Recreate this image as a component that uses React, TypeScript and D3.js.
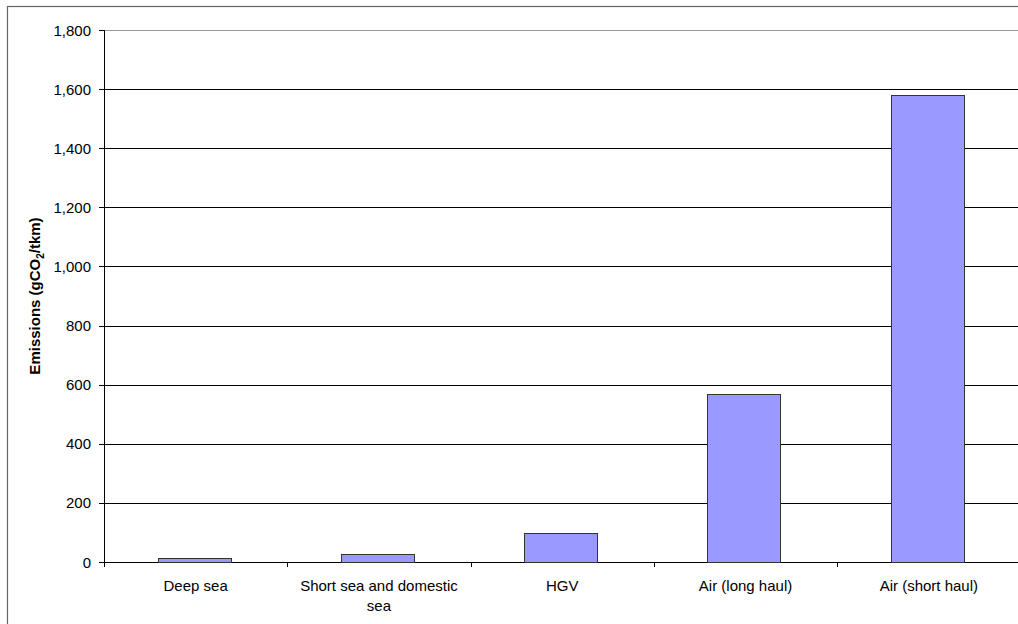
import React from "react";
import * as d3 from "d3";

const categories: string[][] = [
  ["Deep sea"],
  ["Short sea and domestic", "sea"],
  ["HGV"],
  ["Air (long haul)"],
  ["Air (short haul)"],
];
const emissions: number[] = [14, 28, 98, 570, 1580];
const yTicks: number[] = [0, 200, 400, 600, 800, 1000, 1200, 1400, 1600, 1800];

const W = 1018;
const H = 624;
const plot = { left: 104, right: 1020.5, top: 30, bottom: 562 };

export default function App() {
  const band = d3
    .scaleBand<number>()
    .domain(d3.range(categories.length))
    .range([plot.left, plot.right]);
  const y = d3.scaleLinear().domain([0, 1800]).range([plot.bottom, plot.top]);
  const fmt = d3.format(",");
  const font = "'Liberation Sans', Arial, sans-serif";
  const barOffset = 0.292;
  const barWidth = 0.4;

  return (
    <svg
      width={W}
      height={H}
      style={{ position: "absolute", left: 0, top: 0, background: "#fff" }}
      fontFamily={font}
    >
      {/* chart frame */}
      <rect x={7.5} y={6.5} width={W + 10} height={H + 10} fill="none" stroke="#666" strokeWidth={1.2} />

      {/* gridlines */}
      {yTicks.map((t) => (
        <line
          key={t}
          x1={plot.left}
          x2={plot.right}
          y1={Math.round(y(t)) + 0.5}
          y2={Math.round(y(t)) + 0.5}
          stroke={t === 1800 ? "#999" : "#000"}
          strokeWidth={1}
        />
      ))}

      {/* bars */}
      {emissions.map((v, i) => (
        <rect
          key={i}
          x={Math.round(band(i)! + band.step() * barOffset) + 0.5}
          y={Math.round(y(v)) + 0.5}
          width={Math.round(band.step() * barWidth)}
          height={Math.round(y(0)) - Math.round(y(v))}
          fill="#9999ff"
          stroke="#333"
          strokeWidth={1}
        />
      ))}

      {/* y axis */}
      <line x1={plot.left + 0.5} x2={plot.left + 0.5} y1={plot.top} y2={plot.bottom + 0.5} stroke="#000" />
      {yTicks.map((t) => (
        <g key={t}>
          <line
            x1={plot.left - 5}
            x2={plot.left}
            y1={Math.round(y(t)) + 0.5}
            y2={Math.round(y(t)) + 0.5}
            stroke="#000"
          />
          <text x={91} y={y(t) + 5.5} textAnchor="end" fontSize={15} fill="#000">
            {fmt(t)}
          </text>
        </g>
      ))}

      {/* x axis ticks at category boundaries */}
      {d3.range(categories.length + 1).map((i) => {
        const bx = Math.round(plot.left + i * band.step()) + 0.5;
        return <line key={i} x1={bx} x2={bx} y1={plot.bottom} y2={plot.bottom + 5} stroke="#000" />;
      })}

      {/* category labels */}
      {categories.map((lines, i) => (
        <text
          key={i}
          x={band(i)! + band.step() / 2}
          y={591}
          textAnchor="middle"
          fontSize={15}
          fill="#000"
        >
          {lines.map((l, j) => (
            <tspan key={j} x={band(i)! + band.step() / 2} dy={j === 0 ? 0 : 20}>
              {l}
            </tspan>
          ))}
        </text>
      ))}

      {/* y axis title */}
      <text
        transform={`translate(40, ${(plot.top + plot.bottom) / 2}) rotate(-90)`}
        textAnchor="middle"
        fontSize={15}
        fontWeight="bold"
        fill="#000"
      >
        Emissions (gCO
        <tspan fontSize={10} dy={4}>2</tspan>
        <tspan dy={-4}>/tkm)</tspan>
      </text>
    </svg>
  );
}
